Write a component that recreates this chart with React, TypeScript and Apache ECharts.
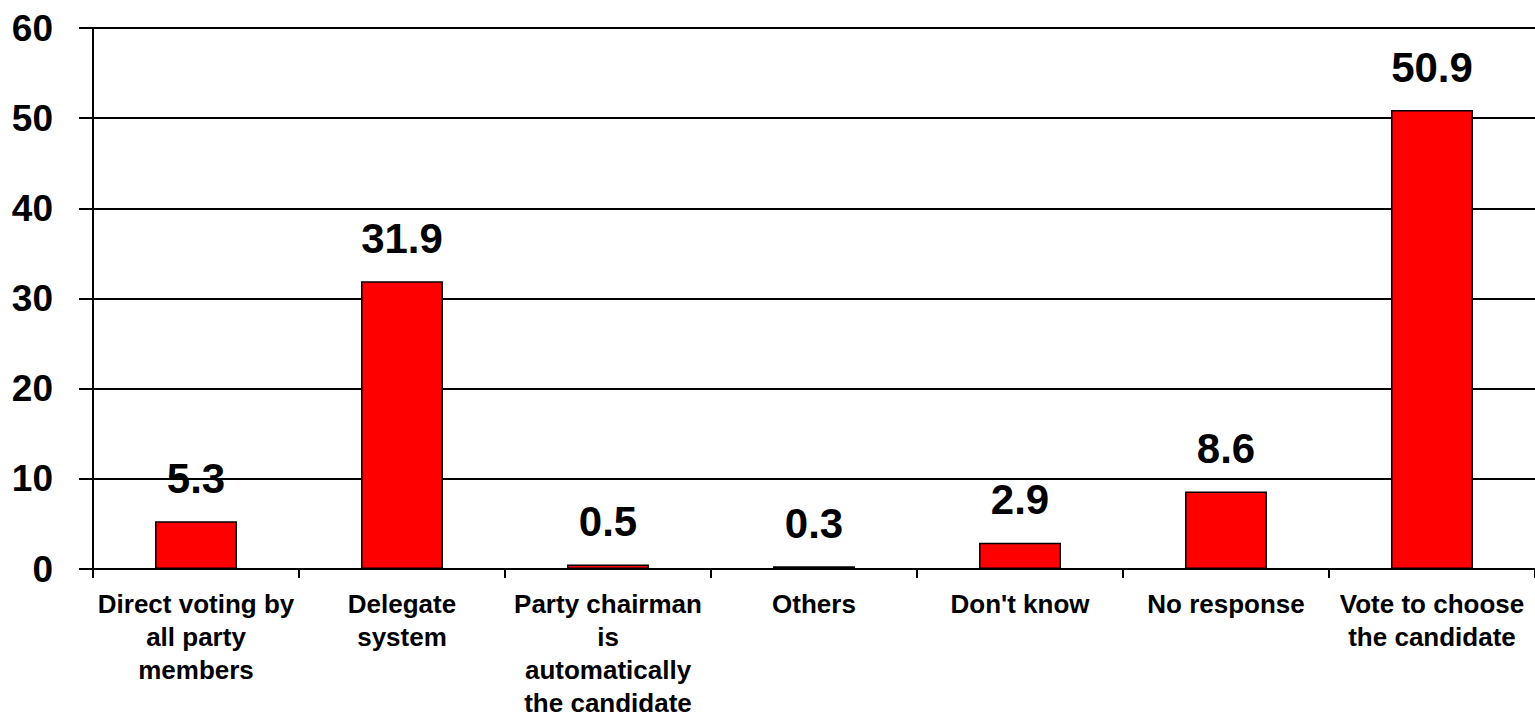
import React, { useEffect, useRef } from "react";
import * as echarts from "echarts";

const categories = [
  "Direct voting by\nall party\nmembers",
  "Delegate\nsystem",
  "Party chairman\nis\nautomatically\nthe candidate",
  "Others",
  "Don't know",
  "No response",
  "Vote to choose\nthe candidate",
];
const values = [5.3, 31.9, 0.5, 0.3, 2.9, 8.6, 50.9];

const FONT = "'Liberation Sans', Arial, sans-serif";

export default function App() {
  const ref = useRef<HTMLDivElement>(null);
  useEffect(() => {
    if (!ref.current) return;
    const chart = echarts.init(ref.current, null, { renderer: "svg" });
    chart.setOption({
      animation: false,
      backgroundColor: "#ffffff",
      grid: {
        left: 93,
        right: 0,
        top: 28,
        bottom: 152,
        containLabel: false,
        outerBoundsMode: "none",
      },
      xAxis: {
        type: "category",
        data: categories,
        axisLine: { lineStyle: { color: "#000", width: 2 } },
        axisTick: { show: true, length: 9, lineStyle: { color: "#000", width: 2 } },
        axisLabel: {
          interval: 0,
          margin: 18,
          color: "#000",
          fontFamily: FONT,
          fontWeight: "bold",
          fontSize: 26,
          lineHeight: 33,
          align: "center",
        },
      },
      yAxis: {
        type: "value",
        min: 0,
        max: 60,
        interval: 10,
        axisLine: { show: true, lineStyle: { color: "#000", width: 2 } },
        axisTick: { show: true, length: 14, lineStyle: { color: "#000", width: 2 } },
        splitLine: { show: true, lineStyle: { color: "#000", width: 2 } },
        axisLabel: {
          margin: 40,
          color: "#000",
          fontFamily: FONT,
          fontWeight: "bold",
          fontSize: 37,
        },
      },
      series: [
        {
          type: "bar",
          data: values,
          barWidth: 82,
          itemStyle: { color: "#FF0000", borderColor: "#000", borderWidth: 1.5 },
          label: {
            show: true,
            position: "top",
            distance: 22,
            color: "#000",
            fontFamily: FONT,
            fontWeight: "bold",
            fontSize: 42,
            formatter: (p: any) => p.value.toFixed(1),
          },
        },
      ],
    });
    return () => chart.dispose();
  }, []);
  return (
    <div
      ref={ref}
      style={{ position: "absolute", left: 0, top: 0, width: 1535, height: 721 }}
    />
  );
}
